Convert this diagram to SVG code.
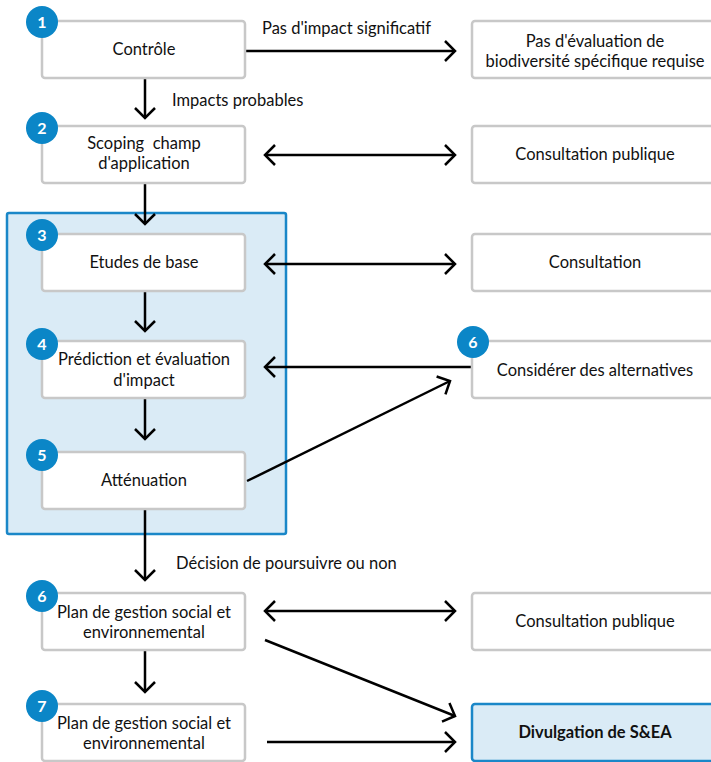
<svg xmlns="http://www.w3.org/2000/svg" width="711" height="762" viewBox="0 0 711 762">
<defs>
<style>
.box{fill:#fff;stroke:#c8c8c8;stroke-width:2.5}
.hl{fill:#daebf6;stroke:#1a87c8;stroke-width:2.5}
.t{font-family:Lato,"Open Sans","Liberation Sans",sans-serif;font-size:16.5px;fill:#111;text-anchor:middle}
.lbl{font-family:Lato,"Open Sans","Liberation Sans",sans-serif;font-size:16.5px;fill:#111}
.b{font-weight:bold}
.badge{fill:#0b86c7}
.bt{font-family:Lato,"Open Sans","Liberation Sans",sans-serif;font-size:16px;font-weight:bold;fill:#fff;text-anchor:middle}
.c{fill:none;stroke:#000;stroke-width:2.5}
</style>
<marker id="ah" markerUnits="userSpaceOnUse" markerWidth="26" markerHeight="26" viewBox="-13 -13 26 26" refX="0" refY="0" orient="auto-start-reverse" overflow="visible">
<path d="M-10,-10 L0,0 L-10,10" fill="none" stroke="#000" stroke-width="2.5"/>
</marker>
</defs>
<rect x="0" y="0" width="711" height="762" fill="#fff"/>
<g id="phase">
<rect class="hl" x="7" y="213" width="279" height="321" rx="2"/>
</g>
<g id="connectors">
<line class="c" x1="245" y1="51" x2="455" y2="51" marker-end="url(#ah)"/>
<line class="c" x1="145" y1="79" x2="145" y2="118" marker-end="url(#ah)"/>
<line class="c" x1="265" y1="155" x2="455" y2="155" marker-start="url(#ah)" marker-end="url(#ah)"/>
<line class="c" x1="145" y1="184" x2="145" y2="224" marker-end="url(#ah)"/>
<line class="c" x1="265" y1="264" x2="455" y2="264" marker-start="url(#ah)" marker-end="url(#ah)"/>
<line class="c" x1="145" y1="291" x2="145" y2="331" marker-end="url(#ah)"/>
<line class="c" x1="472" y1="367" x2="265" y2="367" marker-end="url(#ah)"/>
<line class="c" x1="145" y1="399" x2="145" y2="439" marker-end="url(#ah)"/>
<line class="c" x1="247" y1="481" x2="450" y2="381" marker-end="url(#ah)"/>
<line class="c" x1="145" y1="509" x2="145" y2="580" marker-end="url(#ah)"/>
<line class="c" x1="265" y1="611" x2="455" y2="611" marker-start="url(#ah)" marker-end="url(#ah)"/>
<line class="c" x1="265" y1="640" x2="455" y2="716" marker-end="url(#ah)"/>
<line class="c" x1="145" y1="651" x2="145" y2="692" marker-end="url(#ah)"/>
<line class="c" x1="267" y1="742" x2="455" y2="742" marker-end="url(#ah)"/>
<text class="lbl" x="262" y="34">Pas d'impact significatif</text>
<text class="lbl" x="172" y="106">Impacts probables</text>
<text class="lbl" x="176" y="569">Décision de poursuivre ou non</text>
</g>
<g id="n1">
<rect class="box" x="42" y="21" width="203" height="57" rx="3"/>
<text class="t" x="144" y="55">Contrôle</text>
<circle class="badge" cx="42" cy="22" r="16"/><text class="bt" x="42" y="28">1</text>
</g>
<g id="n2">
<rect class="box" x="42" y="126" width="203" height="57" rx="3"/>
<text class="t" x="144" y="149" style="white-space:pre">Scoping  champ</text>
<text class="t" x="144" y="169">d'application</text>
<circle class="badge" cx="42" cy="128" r="16"/><text class="bt" x="42" y="134">2</text>
</g>
<g id="n3">
<rect class="box" x="42" y="234" width="203" height="57" rx="3"/>
<text class="t" x="144" y="268">Etudes de base</text>
<circle class="badge" cx="42" cy="235" r="16"/><text class="bt" x="42" y="241">3</text>
</g>
<g id="n4">
<rect class="box" x="42" y="341" width="203" height="57" rx="3"/>
<text class="t" x="144" y="365">Prédiction et évaluation</text>
<text class="t" x="144" y="386">d'impact</text>
<circle class="badge" cx="42" cy="344" r="16"/><text class="bt" x="42" y="350">4</text>
</g>
<g id="n5">
<rect class="box" x="42" y="452" width="203" height="57" rx="3"/>
<text class="t" x="144" y="486">Atténuation</text>
<circle class="badge" cx="42" cy="455" r="16"/><text class="bt" x="42" y="461">5</text>
</g>
<g id="n6">
<rect class="box" x="42" y="593" width="203" height="57" rx="3"/>
<text class="t" x="144" y="618">Plan de gestion social et</text>
<text class="t" x="144" y="638">environnemental</text>
<circle class="badge" cx="42" cy="596" r="16"/><text class="bt" x="42" y="602">6</text>
</g>
<g id="n7">
<rect class="box" x="42" y="704" width="203" height="57" rx="3"/>
<text class="t" x="144" y="729">Plan de gestion social et</text>
<text class="t" x="144" y="749">environnemental</text>
<circle class="badge" cx="42" cy="706" r="16"/><text class="bt" x="42" y="712">7</text>
</g>
<g id="r1">
<rect class="box" x="472" y="21" width="244" height="57" rx="3"/>
<text class="t" x="595" y="47">Pas d'évaluation de</text>
<text class="t" x="595" y="67">biodiversité spécifique requise</text>
</g>
<g id="r2">
<rect class="box" x="472" y="126" width="244" height="57" rx="3"/>
<text class="t" x="595" y="160">Consultation publique</text>
</g>
<g id="r3">
<rect class="box" x="472" y="234" width="244" height="57" rx="3"/>
<text class="t" x="595" y="268">Consultation</text>
</g>
<g id="r4">
<rect class="box" x="472" y="341" width="244" height="57" rx="3"/>
<text class="t" x="595" y="376">Considérer des alternatives</text>
<circle class="badge" cx="473" cy="342" r="16"/><text class="bt" x="473" y="348">6</text>
</g>
<g id="r5">
<rect class="box" x="472" y="593" width="244" height="57" rx="3"/>
<text class="t" x="595" y="627">Consultation publique</text>
</g>
<g id="r6">
<rect class="hl" x="472" y="704" width="244" height="57" rx="3"/>
<text class="t b" x="595" y="738">Divulgation de S&amp;EA</text>
</g>
</svg>
